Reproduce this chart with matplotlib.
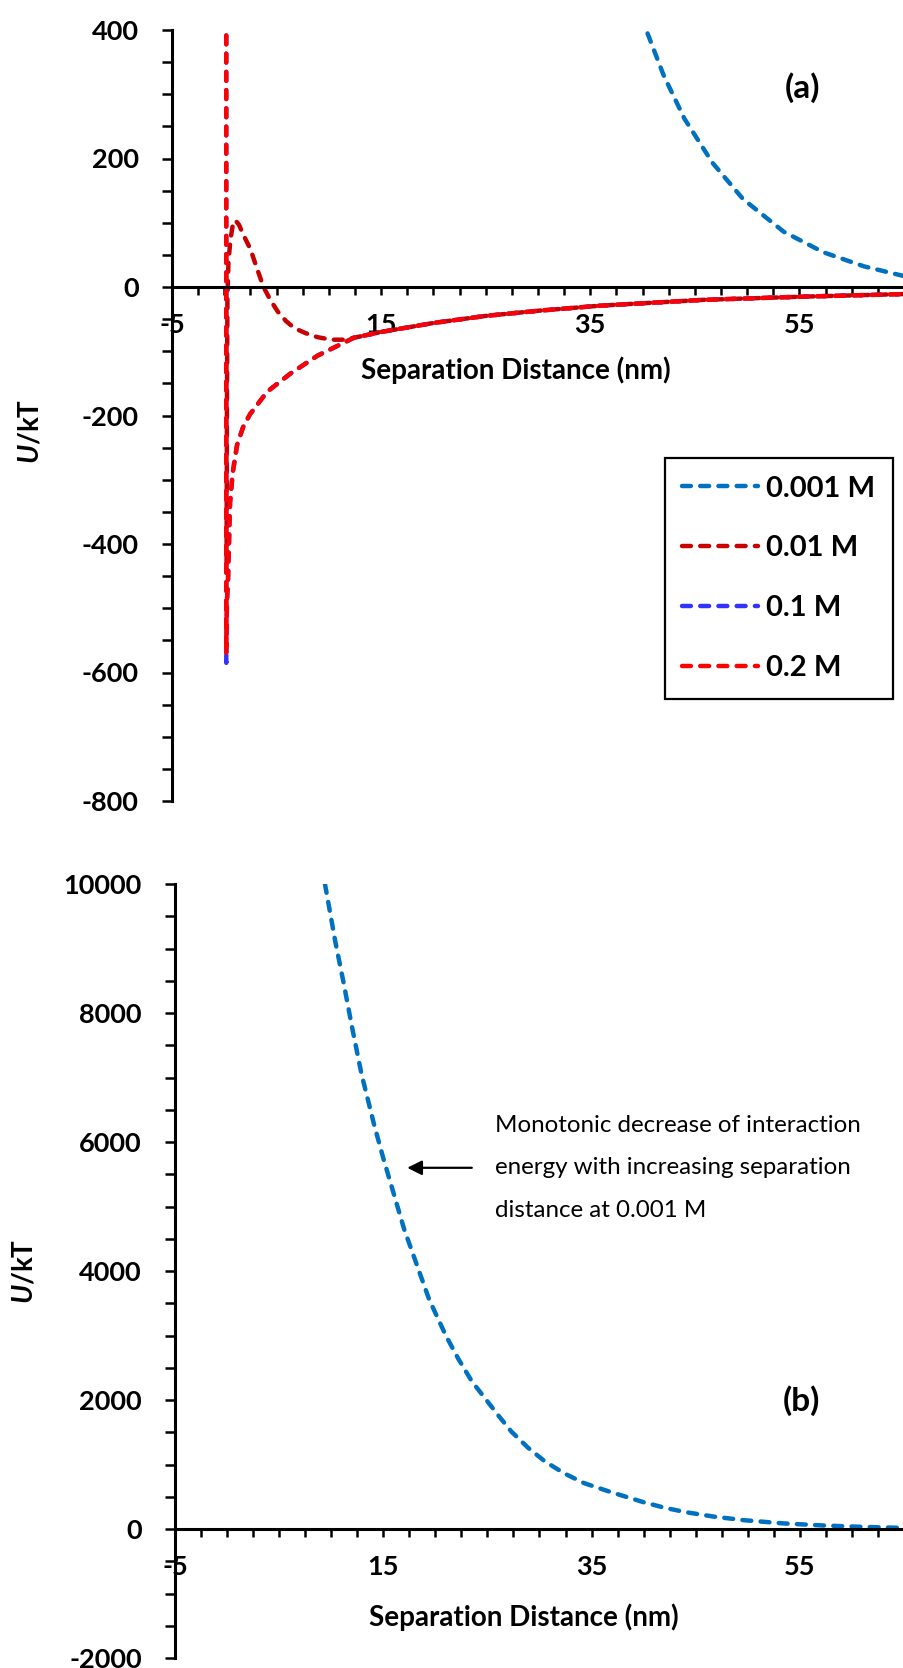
import numpy as np
import matplotlib.pyplot as plt
from matplotlib.ticker import FixedLocator, MultipleLocator

plt.rcParams['font.family'] = ['Lato', 'DejaVu Sans']
plt.rcParams['font.weight'] = 'bold'
plt.rcParams['axes.unicode_minus'] = False
plt.rcParams['mathtext.fontset'] = 'custom'
plt.rcParams['mathtext.it'] = 'Lato:italic:bold'
plt.rcParams['mathtext.rm'] = 'Lato:bold'

# --- data (separation in nm, energy in kT) ---
labels = ['0.001 M', '0.01 M', '0.1 M', '0.2 M']
colors = ['#0070C0', '#C80000', '#3333FF', '#FF0000']

x_001 = [9.4, 10.4, 11.2, 12.0, 12.9, 14.1, 15.0, 17.0, 19.4, 21.0, 22.2, 23.5,
         24.8, 26.0, 27.3, 28.9, 30.5, 32.4, 34.3, 36.8, 39.3, 40.0, 42.0, 44.0,
         46.7, 49.6, 53.5, 57.3, 61.2, 65.0]
u_001 = [10000, 9100, 8460, 7780, 7060, 6280, 5750, 4650, 3560, 3000, 2640, 2290,
         2020, 1770, 1510, 1260, 1050, 860, 710, 575, 450, 415, 330, 262,
         193, 137, 86, 54, 32, 17]

x_01 = [0.22, 0.25, 0.3, 0.4, 0.6, 0.8, 1.05, 1.4, 1.8, 2.5, 3.1, 3.75, 4.4,
        5.1, 5.9, 6.7, 7.8, 8.9, 10.2, 11.4, 12.4, 15.0, 20.0, 25.0, 30.0,
        36.0, 45.8, 55.4, 65.0]
u_01 = [-430, -200, -20, 40, 75, 95, 104, 97, 82, 59, 30, 0, -20,
        -38, -53, -64, -72, -78, -82, -82, -79, -70, -56, -45, -37,
        -29, -20, -15, -11]

x_1 = [0.185, 0.19, 0.25, 0.36, 0.55, 0.8, 1.22, 1.8, 2.46, 4.1, 6.3, 8.9, 11.4,
       12.4, 15.0, 20.0, 25.0, 30.0, 36.0, 45.8, 55.4, 65.0]
u_1 = [1500, -585, -490, -454, -336, -290, -246, -218, -198, -163, -135, -107, -87,
       -79, -70, -56, -45, -37, -29, -20, -15, -11]

x_2 = list(x_1)
u_2 = [1500, -571] + u_1[2:]

x_ticks = [-5, 15, 35, 55]

series = [(x_001, u_001), (x_01, u_01), (x_1, u_1), (x_2, u_2)]

fig = plt.figure(figsize=(9.04, 16.68), dpi=100)
ax_a = fig.add_axes([172 / 904, 1 - 801 / 1668, 732 / 904, 771 / 1668])
ax_b = fig.add_axes([175 / 904, 1 - 1658 / 1668, 729 / 904, 774 / 1668])


def style_axes(ax, ylo, yhi, ymajor, yminor):
    ax.set_xlim(-5, 65)
    ax.set_ylim(ylo, yhi)
    for s in ['top', 'right']:
        ax.spines[s].set_visible(False)
    ax.spines['bottom'].set_position(('data', 0))
    ax.spines['left'].set_linewidth(2.2)
    ax.spines['bottom'].set_linewidth(2.2)
    ax.xaxis.set_major_locator(FixedLocator(x_ticks))
    ax.xaxis.set_minor_locator(MultipleLocator(2.5))
    ax.yaxis.set_major_locator(MultipleLocator(ymajor))
    ax.yaxis.set_minor_locator(MultipleLocator(yminor))
    ax.tick_params(which='both', direction='out', width=1.8, colors='black')
    ax.tick_params(axis='y', which='both', length=7, pad=17, labelsize=19.5)
    ax.tick_params(axis='x', which='both', length=6, pad=13, labelsize=19.5)
    ax.set_ylabel('$U$/kT', fontsize=20, fontweight='bold')
    ax.set_xlabel('Separation Distance (nm)', fontsize=20, fontweight='bold')


line_kw = dict(linestyle=(0, (2.0, 2.1)), linewidth=3.2, dash_capstyle='round')

# panel (a): all four concentrations
for (xs, us), lab, col in zip(series, labels, colors):
    ax_a.plot(xs, us, color=col, label=lab, **line_kw)
style_axes(ax_a, -800, 400, 200, 50)
ax_a.yaxis.set_label_coords(-0.176, 0.48)
ax_a.xaxis.set_label_coords(0.47, 0.576)
ax_a.text(0.861, 0.925, '(a)', transform=ax_a.transAxes, fontsize=24,
          ha='center', va='center')
leg = ax_a.legend(loc='upper left', bbox_to_anchor=(665 / 904, 1 - 458 / 1668),
                  bbox_transform=fig.transFigure, borderaxespad=0, fontsize=21,
                  handlelength=2.6, handletextpad=0.27, labelspacing=1.16,
                  borderpad=0.6, fancybox=False, framealpha=1)
leg.get_frame().set_edgecolor('black')
leg.get_frame().set_linewidth(1.6)

# panel (b): only the 0.001 M curve
ax_b.plot(x_001, u_001, color=colors[0], **line_kw)
style_axes(ax_b, -2000, 10000, 2000, 500)
ax_b.yaxis.set_label_coords(-0.189, 0.5)
ax_b.xaxis.set_label_coords(0.479, 0.071)
ax_b.text(0.859, 0.332, '(b)', transform=ax_b.transAxes, fontsize=24,
          ha='center', va='center')
ax_b.annotate('', xy=(17.3, 5600), xytext=(23.5, 5600),
              arrowprops=dict(arrowstyle='-|>', color='black', lw=1.6,
                              mutation_scale=22, shrinkA=0, shrinkB=0))
ax_b.text(25.7, 5600, 'Monotonic decrease of interaction\n'
          'energy with increasing separation\ndistance at 0.001 M',
          fontsize=17.4, fontweight='normal', ha='left', va='center',
          linespacing=2.25)

fig.savefig('out.png', dpi=100)
